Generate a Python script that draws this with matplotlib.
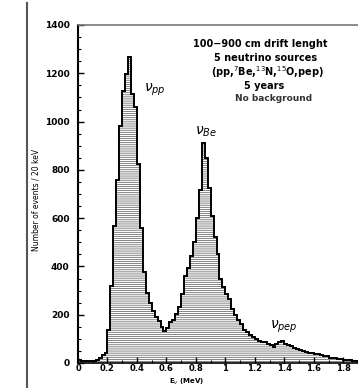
import numpy as np
import matplotlib.pyplot as plt
from matplotlib.lines import Line2D
from matplotlib.ticker import MultipleLocator, FormatStrFormatter

plt.rcParams['hatch.linewidth'] = 0.5

BIN_WIDTH = 0.02  # MeV (20 keV)

# counts per 20 keV bin, starting at 0 MeV
counts = [12, 10, 8, 7, 8, 10, 13, 20, 33, 41,
          138, 320, 567, 760, 983, 1125, 1198, 1268, 1115, 1062,
          826, 561, 377, 290, 250, 216, 190, 175, 149, 133,
          145, 170, 180, 202, 231, 285, 360, 395, 445, 500,
          600, 718, 910, 848, 723, 608, 520, 450, 350, 315,
          285, 264, 223, 200, 180, 160, 135, 128, 118, 106,
          98, 92, 88, 85, 80, 74, 66, 80, 88, 93,
          80, 75, 70, 63, 60, 55, 50, 45, 42, 40,
          38, 36, 33, 31, 28, 22, 20, 19, 17, 15,
          14, 13, 11, 10, 9]
edges = np.arange(len(counts) + 1) * BIN_WIDTH

x_ticks = [0, 0.2, 0.4, 0.6, 0.8, 1.0, 1.2, 1.4, 1.6, 1.8]
y_ticks = [0, 200, 400, 600, 800, 1000, 1200, 1400]

info_lines = ["100\u2212900 cm drift lenght",
              "5 neutrino sources",
              r"(pp,$^{7}$Be,$^{13}$N,$^{15}$O,pep)",
              "5 years"]

fig = plt.figure(figsize=(3.58, 3.88), dpi=100)
ax = fig.add_axes([78 / 358, 1 - 363 / 388, 280 / 358, 338 / 388])

# hatched fill in grey, outline on top in black
ax.stairs(counts, edges, fill=True, facecolor='white', edgecolor='#555555',
          hatch='--------', linewidth=0)
ax.stairs(counts, edges, fill=False, edgecolor='black', linewidth=1.4)

ax.set_xlim(0, 1.9)
ax.set_ylim(0, 1400)
ax.set_xticks(x_ticks)
ax.set_yticks(y_ticks)
ax.xaxis.set_major_formatter(FormatStrFormatter('%g'))
ax.yaxis.set_minor_locator(MultipleLocator(50))
ax.xaxis.set_minor_locator(MultipleLocator(0.1))
ax.tick_params(which='both', direction='in', top=False, right=False)
ax.tick_params(which='major', length=4, width=1, labelsize=6.5)
ax.tick_params(axis='y', which='major', pad=6)
ax.tick_params(axis='x', which='major', pad=1, labelsize=6)
ax.tick_params(which='minor', length=2, width=0.8)
for lab in ax.get_xticklabels() + ax.get_yticklabels():
    lab.set_fontweight('bold')

ax.spines['right'].set_visible(False)
ax.spines['top'].set_color('#777777')
ax.spines['top'].set_linewidth(1.2)
ax.spines['left'].set_linewidth(1.5)
ax.spines['bottom'].set_linewidth(1.2)

# peak labels
ax.text(0.52, 1130, r"$\nu_{pp}$", fontsize=10, ha='center', va='center')
ax.text(0.87, 958, r"$\nu_{Be}$", fontsize=10, ha='center', va='center')
ax.text(1.40, 150, r"$\nu_{pep}$", fontsize=10, ha='center', va='center')

# info block
info_x = [1.235, 1.275, 1.285, 1.26]
info_y = [1322, 1264, 1204, 1149]
for s, xx, yy in zip(info_lines, info_x, info_y):
    ax.text(xx, yy, s, fontsize=7, fontweight='bold', ha='center', va='center')
ax.text(1.33, 1094, "No background", fontsize=6.5, fontweight='bold',
        ha='center', va='center', color='#333333')

fig.text(36 / 358, 1 - 200 / 388, "Number of events / 20 keV", rotation=90,
         fontsize=5.5, ha='center', va='center')
fig.text(187 / 358, 1 - 387 / 388, r"E$_{\nu}$ (MeV)", fontsize=5,
         fontweight='bold', ha='center', va='bottom')

# page border line from the scan
fig.add_artist(Line2D([27 / 358, 27 / 358], [0, 1 - 3 / 388],
                      transform=fig.transFigure, color='#555555', lw=1.5))

fig.savefig('out.png', dpi=100)
